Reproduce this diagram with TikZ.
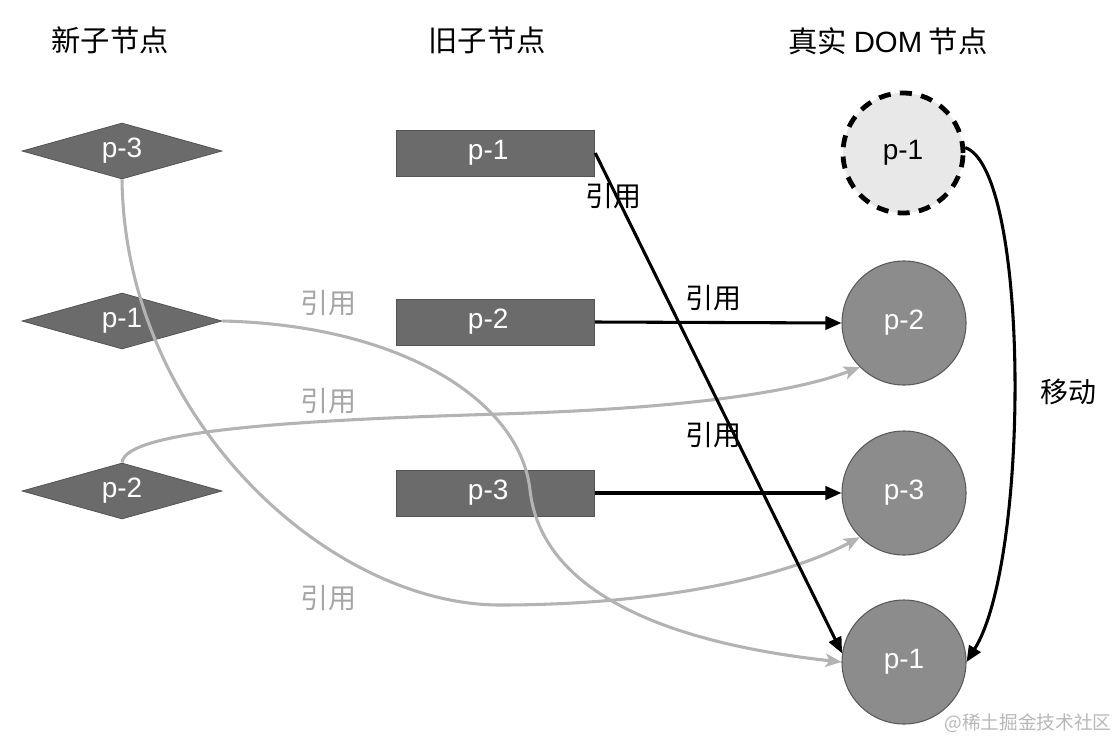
\documentclass[tikz,border=0pt]{standalone}
\usepackage{fontspec}
\setmainfont{Liberation Sans}
\newfontfamily\cjk{Noto Sans CJK SC}
\usetikzlibrary{shapes.geometric,arrows.meta}
\definecolor{boxgray}{HTML}{6B6B6B}
\definecolor{boxedge}{HTML}{545454}
\definecolor{circgray}{HTML}{8C8C8C}
\definecolor{circedge}{HTML}{5A5A5A}
\definecolor{ghost}{HTML}{E8E8E8}
\definecolor{linkgray}{HTML}{B3B3B3}
\definecolor{labelgray}{HTML}{A6A6A6}
\definecolor{wmgray}{HTML}{B8B8B8}
\begin{document}
\begin{tikzpicture}[x=0.75pt,y=-0.75pt,
 nodefont/.style={font=\fontsize{21}{23}\selectfont},
 newnode/.style={diamond, aspect=3.6, minimum width=150pt, minimum height=42pt, inner sep=0pt, fill=boxgray, draw=boxedge, line width=0.6pt, text=white, nodefont},
 oldnode/.style={rectangle, minimum width=149pt, minimum height=34.5pt, inner sep=0pt, fill=boxgray, draw=boxedge, line width=0.6pt, text=white, nodefont},
 domnode/.style={circle, minimum size=93pt, inner sep=0pt, fill=circgray, draw=circedge, line width=0.8pt, text=white, nodefont},
 ghostnode/.style={circle, minimum size=90pt, inner sep=0pt, fill=ghost, draw=black, line width=3.6pt, dash pattern=on 9pt off 7pt, text=black, nodefont},
 header/.style={font=\cjk\fontsize{22}{25}\selectfont},
 reflink/.style={-{Triangle[length=12pt,width=10pt]}, line width=2.3pt, draw=black},
 graylink/.style={-{Stealth[length=12pt,width=10pt,inset=3pt]}, line width=2.3pt, draw=linkgray},
 blacklabel/.style={font=\cjk\fontsize{21}{23}\selectfont, text=black},
 graylabel/.style={font=\cjk\fontsize{21}{23}\selectfont, text=labelgray}]
\useasboundingbox[fill=white] (0,0) rectangle (1114,740);

% headers
\node[header] (h1) at (110,40) {新子节点};
\node[header] (h2) at (487,40) {旧子节点};
\node[header] (h3) at (888,41) {真实 {\rmfamily DOM} 节点};

% new children (diamonds)
\node[newnode] (n3) at (122,151) {p-3};
\node[newnode] (n1) at (122,321) {p-1};
\node[newnode] (n2) at (122,491) {p-2};

% old children (rectangles)
\node[oldnode] (o1) at (495.5,153) {\hspace*{-11pt}p-1};
\node[oldnode] (o2) at (495.5,322) {\hspace*{-11pt}p-2};
\node[oldnode] (o3) at (495.5,493) {\hspace*{-11pt}p-3};

% real DOM nodes
\node[ghostnode] (d1) at (903,153) {p-1};
\node[domnode] (d2) at (904,323) {p-2};
\node[domnode] (d3) at (904,493) {p-3};
\node[domnode] (d4) at (904,662) {p-1};

% gray references from new children
\draw[graylink] (n3.south) .. controls (125,420) and (330,605) .. (500,605) .. controls (650,605) and (780,580) .. (d3.225);
\draw[graylink] (n1.east) .. controls (400,325) and (520,400) .. (530,490) .. controls (540,580) and (640,640) .. (d4.west);
\draw[graylink] (n2.north) .. controls (125,430) and (300,420) .. (500,414) .. controls (700,408) and (800,390) .. (d2.225);

% black references from old children
\draw[reflink] (o1.east) -- (d4.172);
\draw[reflink] (o2.east) -- (d2.west);
\draw[reflink] (o3.east) -- (d3.west);
\draw[reflink] (d1.5) .. controls (1030,170) and (1030,560) .. (d4.east);

% labels
\node[blacklabel] (l1) at (613,196) {引用};
\node[blacklabel] (l2) at (713,298) {引用};
\node[blacklabel] (l3) at (713,435) {引用};
\node[blacklabel] (mv) at (1068,392) {移动};
\node[graylabel] (g1) at (328,303) {引用};
\node[graylabel] (g2) at (328,401) {引用};
\node[graylabel] (g3) at (328,598) {引用};

% watermark
\node[font=\cjk\fontsize{14}{16}\selectfont, text=wmgray] (wm) at (1028,723) {@稀土掘金技术社区};
\end{tikzpicture}
\end{document}
